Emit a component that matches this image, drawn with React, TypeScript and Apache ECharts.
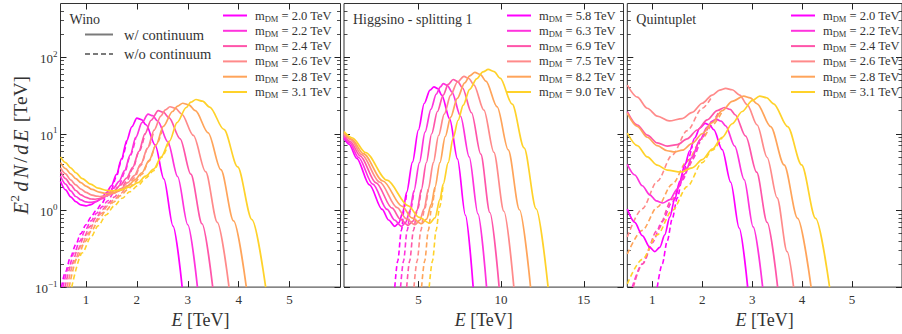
import React, { useEffect, useRef } from 'react';
import * as echarts from 'echarts';

// ---------------- data ----------------
const winoMasses = ['2.0', '2.2', '2.4', '2.6', '2.8', '3.1'];
const higgsinoMasses = ['5.8', '6.3', '6.9', '7.5', '8.2', '9.0'];
const quintupletMasses = ['2.0', '2.2', '2.4', '2.6', '2.8', '3.1'];

const panelTitles = ['Wino', 'Higgsino - splitting 1', 'Quintuplet'];
const xRanges = [[0.5, 6], [0.5, 17.4], [0.5, 6]];
const xTickValues = [[1, 2, 3, 4, 5], [5, 10, 15], [1, 2, 3, 4, 5]];
const yRange = [0.1, 500];
const yMajorTicks = [0.1, 1, 10, 100];
const yMinorTicks = [0.2, 0.3, 0.4, 0.5, 0.6, 0.7, 0.8, 0.9, 2, 3, 4, 5, 6, 7, 8, 9, 20, 30, 40, 50, 60, 70, 80, 90, 200, 300, 400];

// Wino, with continuum (E [TeV], E^2 dN/dE [TeV])
const winoSolid = [
  [[0.5,2.4],[0.6,1.85],[0.7,1.5],[0.8,1.3],[0.9,1.18],[1.0,1.15],[1.1,1.19],[1.2,1.3],[1.3,1.45],[1.4,1.7],[1.5,2.1],[1.6,2.95],[1.7,4.75],[1.8,8.1],[1.9,12.3],[2.0,16],[2.09,15.3],[2.18,13.1],[2.36,7.1],[2.53,2.58],[2.71,0.625],[2.89,0.1]],
  [[0.5,2.8],[0.6,2.2],[0.7,1.8],[0.8,1.52],[0.9,1.37],[1.0,1.29],[1.08,1.27],[1.2,1.31],[1.32,1.42],[1.43,1.62],[1.54,1.95],[1.65,2.4],[1.76,3.3],[1.87,5.3],[1.98,9.0],[2.1,14],[2.22,18],[2.31,17.2],[2.41,14.6],[2.61,7.8],[2.8,2.77],[3.0,0.65],[3.19,0.1]],
  [[0.5,3.2],[0.6,2.6],[0.7,2.15],[0.8,1.82],[0.9,1.6],[1.0,1.48],[1.1,1.41],[1.18,1.4],[1.3,1.44],[1.44,1.6],[1.56,1.82],[1.68,2.15],[1.8,2.65],[1.92,3.65],[2.04,5.9],[2.16,10],[2.28,15],[2.42,20],[2.52,19.1],[2.63,16.2],[2.85,8.6],[3.06,2.97],[3.28,0.67],[3.49,0.1]],
  [[0.5,3.6],[0.6,3.0],[0.7,2.5],[0.8,2.15],[0.9,1.9],[1.0,1.72],[1.1,1.6],[1.2,1.54],[1.28,1.52],[1.4,1.55],[1.56,1.68],[1.69,1.92],[1.82,2.3],[1.95,2.85],[2.08,4.05],[2.21,6.5],[2.34,11.2],[2.47,17],[2.56,20.5],[2.65,22.5],[2.76,21.4],[2.88,18.1],[3.11,9.5],[3.35,3.2],[3.58,0.7],[3.81,0.1]],
  [[0.5,4.2],[0.6,3.5],[0.7,3.0],[0.8,2.6],[0.9,2.3],[1.0,2.08],[1.12,1.88],[1.26,1.73],[1.4,1.66],[1.54,1.7],[1.68,1.82],[1.82,2.07],[1.96,2.5],[2.1,3.1],[2.24,4.5],[2.38,7.2],[2.52,12.5],[2.7,19.5],[2.8,23],[2.9,25],[3.02,23.8],[3.15,20],[3.4,10.3],[3.65,3.4],[3.9,0.73],[4.15,0.1]],
  [[0.5,5.0],[0.6,4.2],[0.7,3.6],[0.8,3.1],[0.93,2.6],[1.09,2.2],[1.24,1.95],[1.4,1.83],[1.52,1.8],[1.71,1.87],[1.86,2.02],[2.02,2.3],[2.17,2.8],[2.33,3.45],[2.48,5.0],[2.64,8.0],[2.79,14],[2.97,22],[3.06,25.8],[3.16,28],[3.29,26.6],[3.43,22.3],[3.71,11.4],[3.98,3.7],[4.26,0.76],[4.53,0.1]],
];
// Wino, without continuum
const winoDashed = [
  [[0.52,0.1],[0.6,0.16],[0.7,0.25],[0.8,0.36],[0.9,0.5],[1.0,0.65],[1.1,0.82],[1.2,1.0],[1.3,1.2],[1.4,1.5],[1.5,1.9],[1.6,2.8],[1.7,4.6],[1.8,8.1]],
  [[0.55,0.1],[0.66,0.18],[0.77,0.28],[0.88,0.4],[0.99,0.56],[1.1,0.73],[1.21,0.92],[1.32,1.12],[1.43,1.34],[1.54,1.68],[1.65,2.13],[1.76,3.1],[1.87,5.2],[1.98,9.0]],
  [[0.59,0.1],[0.72,0.2],[0.84,0.31],[0.96,0.45],[1.08,0.62],[1.2,0.81],[1.32,1.02],[1.44,1.25],[1.56,1.5],[1.68,1.88],[1.8,2.4],[1.92,3.5],[2.04,5.8],[2.16,10]],
  [[0.63,0.1],[0.78,0.22],[0.91,0.35],[1.04,0.5],[1.17,0.7],[1.3,0.91],[1.43,1.15],[1.56,1.4],[1.69,1.68],[1.82,2.1],[1.95,2.66],[2.08,3.9],[2.21,6.4],[2.34,11.2]],
  [[0.67,0.1],[0.84,0.25],[0.98,0.39],[1.12,0.56],[1.26,0.78],[1.4,1.01],[1.54,1.28],[1.68,1.56],[1.82,1.87],[1.96,2.34],[2.1,2.96],[2.24,4.4],[2.38,7.2],[2.52,12.5]],
  [[0.72,0.1],[0.93,0.28],[1.09,0.44],[1.24,0.63],[1.4,0.88],[1.55,1.14],[1.71,1.44],[1.86,1.75],[2.02,2.1],[2.17,2.63],[2.33,3.3],[2.48,4.9],[2.64,8.0]],
];

// Higgsino, with continuum
const higgsinoSolid = [
  [[0.5,8.8],[0.81,7.3],[1.27,4.78],[2.04,2.15],[2.81,1.03],[3.2,0.75],[3.58,0.62],[3.82,0.69],[4.05,0.94],[4.29,1.73],[4.64,4.26],[5.0,11.2],[5.35,24.8],[5.7,37],[5.94,41],[6.17,38.7],[6.41,32],[6.89,15.6],[7.36,4.7],[7.84,0.87],[8.31,0.1]],
  [[0.5,9.2],[0.85,7.6],[1.37,4.94],[2.24,2.2],[3.11,1.03],[3.55,0.75],[3.98,0.62],[4.23,0.7],[4.48,0.98],[4.73,1.8],[5.06,4.2],[5.4,10.5],[5.76,21],[6.08,33],[6.33,41],[6.5,45],[6.75,42.6],[7.02,35.2],[7.55,16.9],[8.07,4.99],[8.6,0.9],[9.12,0.1]],
  [[0.5,9.6],[0.89,7.9],[1.47,5.15],[2.44,2.29],[3.41,1.07],[3.9,0.77],[4.38,0.64],[4.65,0.72],[4.92,1.0],[5.17,1.85],[5.48,4.2],[5.8,10],[6.15,19.5],[6.5,32],[6.8,44],[7.1,51],[7.38,47.9],[7.66,39.8],[8.21,18.8],[8.77,5.41],[9.32,0.94],[9.88,0.1]],
  [[0.5,10.0],[0.93,8.3],[1.57,5.33],[2.65,2.35],[3.72,1.09],[4.26,0.78],[4.79,0.65],[5.07,0.74],[5.35,1.05],[5.6,1.9],[5.9,4.2],[6.22,9.5],[6.56,18],[6.95,32],[7.35,47],[7.75,56],[8.05,52.6],[8.35,43.5],[8.96,20.3],[9.56,5.74],[10.17,0.975],[10.77,0.1]],
  [[0.5,10.3],[0.97,8.5],[1.67,5.5],[2.85,2.42],[4.02,1.13],[4.6,0.8],[5.19,0.67],[5.49,0.77],[5.78,1.2],[6.0,2.0],[6.3,4.2],[6.62,9.2],[6.95,16.5],[7.35,29],[7.8,46],[8.1,57],[8.41,63],[8.75,59.1],[9.08,48.6],[9.76,22.4],[10.43,6.18],[11.11,1.02],[11.78,0.1]],
  [[0.5,10.7],[1.02,8.8],[1.8,5.7],[3.1,2.48],[4.39,1.15],[5.04,0.81],[5.69,0.68],[6.0,0.8],[6.3,1.4],[6.5,2.2],[6.8,4.2],[7.1,8.8],[7.4,15],[7.71,23.7],[8.1,38],[8.52,52],[8.9,64],[9.22,69],[9.58,64.8],[9.94,53.1],[10.67,24.3],[11.39,6.56],[12.12,1.05],[12.84,0.1]],
];
// Higgsino, without continuum
const higgsinoDashed = [
  [[3.57,0.1],[3.75,0.22],[3.97,0.55],[4.15,1.1],[4.29,1.73]],
  [[3.92,0.1],[4.1,0.22],[4.32,0.55],[4.52,1.0],[4.73,1.8]],
  [[4.29,0.1],[4.47,0.22],[4.7,0.55],[4.92,0.98],[5.17,1.85]],
  [[4.73,0.1],[4.92,0.22],[5.15,0.55],[5.35,1.0],[5.6,1.9]],
  [[5.19,0.1],[5.38,0.22],[5.6,0.55],[5.8,1.1],[6.0,2.0]],
  [[5.65,0.1],[5.85,0.22],[6.07,0.55],[6.28,1.1],[6.5,2.2]],
];

// Quintuplet, with continuum
const quintupletSolid = [
  [[0.5,1.04],[0.65,0.7],[0.8,0.47],[0.95,0.33],[1.05,0.29],[1.15,0.33],[1.25,0.48],[1.35,0.82],[1.45,1.4],[1.55,2.4],[1.65,3.9],[1.75,6.0],[1.85,8.8],[1.95,11.8],[2.06,13.7],[2.15,13.0],[2.23,11.3],[2.4,6.2],[2.57,2.33],[2.74,0.59],[2.91,0.1]],
  [[0.5,4.0],[0.65,2.9],[0.8,2.1],[0.95,1.6],[1.08,1.33],[1.21,1.25],[1.35,1.38],[1.5,1.9],[1.65,3.0],[1.8,5.0],[1.95,8.2],[2.1,12.2],[2.2,14.5],[2.28,15.5],[2.38,14.6],[2.47,12.7],[2.65,6.9],[2.84,2.52],[3.02,0.61],[3.21,0.1]],
  [[0.5,19.5],[0.7,13],[0.9,9.6],[1.1,7.6],[1.3,6.9],[1.5,7.2],[1.7,8.6],[1.9,11.2],[2.1,15.2],[2.3,20],[2.45,22],[2.56,20.8],[2.66,17.7],[2.87,9.3],[3.09,3.15],[3.3,0.7],[3.51,0.1]],
  [[0.5,43],[0.7,30],[0.9,21.5],[1.1,17],[1.34,14.7],[1.6,15.8],[1.8,19],[2.0,25],[2.2,32],[2.35,37],[2.47,39],[2.6,37.5],[2.75,32],[2.9,24],[3.1,13],[3.3,4.9],[3.5,1.46],[3.7,0.29],[3.83,0.1]],
  [[0.5,18.5],[0.7,12.5],[0.9,9.0],[1.1,7.0],[1.3,6.0],[1.45,5.8],[1.6,6.1],[1.8,7.5],[2.0,10],[2.2,14],[2.4,20],[2.6,26.5],[2.83,31],[2.96,29.4],[3.1,24.6],[3.37,12.4],[3.64,3.93],[3.91,0.79],[4.18,0.1]],
  [[0.5,10.2],[0.7,7.0],[0.9,5.0],[1.1,3.9],[1.3,3.35],[1.57,3.17],[1.8,3.6],[2.0,4.6],[2.2,6.3],[2.4,9],[2.6,13.5],[2.8,19.5],[3.0,27],[3.15,31],[3.29,29.5],[3.43,24.6],[3.71,12.4],[3.99,3.93],[4.27,0.79],[4.55,0.1]],
];
// Quintuplet, without continuum
const quintupletDashed = [
  [[1.1,0.1],[1.2,0.2],[1.3,0.4],[1.4,0.78],[1.5,1.45],[1.6,2.6],[1.7,4.4],[1.8,6.9]],
  [[0.6,0.1],[0.8,0.2],[1.0,0.38],[1.2,0.72],[1.4,1.3],[1.6,2.5],[1.8,4.6],[1.95,7.8]],
  [[0.62,0.1],[0.8,0.2],[1.1,0.55],[1.4,1.4],[1.7,3.6],[2.0,9],[2.2,14.5],[2.35,20.5]],
  [[0.5,0.45],[0.8,1.05],[1.1,2.4],[1.4,5.3],[1.7,11],[2.0,21.5],[2.2,31]],
  [[0.5,0.27],[0.8,0.55],[1.1,1.1],[1.4,2.2],[1.7,4.4],[2.0,8.6],[2.2,13],[2.4,19.5]],
  [[0.5,0.11],[0.8,0.23],[1.1,0.48],[1.4,1.0],[1.7,2.05],[2.0,4.2],[2.2,6.1],[2.4,8.9]],
];

// ---------------- styling ----------------
const colors = ['#ff00ff', '#ff33dd', '#ff55aa', '#ff8a8a', '#ffa45a', '#ffd22a'];
const FONT = 'Liberation Serif';
const TXT = '#333';
const grids = [
  { left: 60.5, top: 3.5, width: 280, height: 287 },
  { left: 344, top: 3.5, width: 279.5, height: 287 },
  { left: 627.3, top: 3.5, width: 281, height: 287 },
];
const legendLeft = [222, 506, 790];
const prefixes = ['W', 'H', 'Q'];
const massSets = [winoMasses, higgsinoMasses, quintupletMasses];
const solidSets = [winoSolid, higgsinoSolid, quintupletSolid];
const dashedSets = [winoDashed, higgsinoDashed, quintupletDashed];

function supLabel(v: number) {
  const e = Math.round(Math.log10(v));
  const s = e < 0 ? '\u2212' + (-e) : String(e);
  return `{b|10}{s|${s}}`;
}

function buildOption() {
  const xAxis: any[] = [];
  const yAxis: any[] = [];
  const series: any[] = [];
  const legend: any[] = [];
  const title: any[] = [];

  grids.forEach((g, gi) => {
    const [xmin, xmax] = xRanges[gi];
    xAxis.push({
      type: 'value', gridIndex: gi, position: 'bottom', min: xmin, max: xmax,
      axisLine: { show: false }, splitLine: { show: false },
      axisTick: { show: true, inside: true, length: 6, customValues: xTickValues[gi], lineStyle: { color: '#222', width: 1 } },
      axisLabel: { show: true, customValues: xTickValues[gi], margin: 6, fontFamily: FONT, fontSize: 13, color: TXT },
      name: '{i|E} [TeV]', nameLocation: 'middle', nameGap: 20,
      nameTextStyle: { fontFamily: FONT, fontSize: 18, color: TXT, rich: { i: { fontStyle: 'italic', fontFamily: FONT, fontSize: 18, color: TXT } } },
    });
    xAxis.push({
      type: 'value', gridIndex: gi, position: 'top', min: xmin, max: xmax,
      axisLine: { show: false }, splitLine: { show: false }, axisLabel: { show: false },
      axisTick: { show: true, inside: true, length: 6, customValues: xTickValues[gi], lineStyle: { color: '#222', width: 1 } },
    });
    const baseY = { type: 'log', logBase: 10, gridIndex: gi, min: yRange[0], max: yRange[1], axisLine: { show: false }, splitLine: { show: false } };
    yAxis.push({
      ...baseY, position: 'left',
      axisTick: { show: true, inside: true, length: 6, customValues: yMajorTicks, lineStyle: { color: '#222', width: 1 } },
      axisLabel: gi === 0 ? {
        show: true, customValues: yMajorTicks, margin: 3, formatter: (v: number) => supLabel(v),
        rich: {
          b: { fontFamily: FONT, fontSize: 13, color: TXT, verticalAlign: 'bottom' },
          s: { fontFamily: FONT, fontSize: 9, color: TXT, verticalAlign: 'bottom', padding: [0, 0, 7, 0] },
        },
      } : { show: false },
      name: gi === 0 ? '{e|E}{s|2}{i|d}{i|N}{u|/}{i|d}{i|E}{u| [TeV]}' : '', nameLocation: 'middle', nameGap: 30,
      nameTextStyle: {
        fontFamily: FONT, fontSize: 19, color: TXT,
        rich: {
          e: { fontStyle: 'italic', fontFamily: FONT, fontSize: 20, color: TXT, verticalAlign: 'bottom', padding: [0, 0, 0, 1.5] },
          i: { fontStyle: 'italic', fontFamily: FONT, fontSize: 20, color: TXT, verticalAlign: 'bottom', padding: [0, 1.5, 0, 1.5] },
          u: { fontFamily: FONT, fontSize: 19.5, color: TXT, verticalAlign: 'bottom', padding: [0, 1, 0, 1] },
          s: { fontFamily: FONT, fontSize: 13, color: TXT, verticalAlign: 'bottom', padding: [0, 2, 10, 0.5] },
        },
      },
    });
    yAxis.push({
      ...baseY, position: 'left', axisLabel: { show: false },
      axisTick: { show: true, inside: true, length: 3.5, customValues: yMinorTicks, lineStyle: { color: '#222', width: 0.8 } },
    });
    yAxis.push({
      ...baseY, position: 'right', axisLabel: { show: false },
      axisTick: { show: true, inside: true, length: 6, customValues: yMajorTicks, lineStyle: { color: '#222', width: 1 } },
    });
    yAxis.push({
      ...baseY, position: 'right', axisLabel: { show: false },
      axisTick: { show: true, inside: true, length: 3.5, customValues: yMinorTicks, lineStyle: { color: '#222', width: 0.8 } },
    });

    const masses = massSets[gi];
    masses.forEach((m, i) => {
      series.push({
        type: 'line', name: `${prefixes[gi]}${m} lo`, xAxisIndex: 2 * gi, yAxisIndex: 4 * gi,
        data: dashedSets[gi][i], symbol: 'none', showSymbol: false, smooth: 0.3, smoothMonotone: 'x', silent: true,
        lineStyle: { color: colors[i], width: 1.6, type: [5, 3] }, itemStyle: { color: colors[i] }, z: 2,
      });
    });
    masses.forEach((m, i) => {
      series.push({
        type: 'line', name: `${prefixes[gi]}${m}`, xAxisIndex: 2 * gi, yAxisIndex: 4 * gi,
        data: solidSets[gi][i], symbol: 'none', showSymbol: false, smooth: 0.3, smoothMonotone: 'x', silent: true,
        lineStyle: { color: colors[i], width: 1.7, type: 'solid' }, itemStyle: { color: colors[i] }, z: 3,
      });
    });

    legend.push({
      data: masses.map((m) => `${prefixes[gi]}${m}`), left: legendLeft[gi], top: 9, orient: 'vertical',
      itemWidth: 24, itemHeight: 10, itemGap: 1.3, selectedMode: false, padding: 0,
      itemStyle: { opacity: 0 },
      formatter: (name: string) => `{a|m}{s|DM}{a| = ${name.slice(1)} TeV}`,
      textStyle: {
        padding: [0, 0, 0, 3],
        rich: {
          a: { fontFamily: FONT, fontSize: 12.5, color: TXT, verticalAlign: 'top', lineHeight: 13 },
          s: { fontFamily: FONT, fontSize: 8.5, color: TXT, verticalAlign: 'top', lineHeight: 9, padding: [5, 0, 0, 0] },
        },
      },
    });
    title.push({
      text: panelTitles[gi], left: g.left + 9, top: 12, padding: 0,
      textStyle: { fontFamily: FONT, fontSize: 14, fontWeight: 'normal', color: TXT },
    });
  });

  series.push({
    type: 'line', name: 'w/ continuum', xAxisIndex: 0, yAxisIndex: 0, data: [], symbol: 'none',
    lineStyle: { color: '#7a7a7a', width: 1.7, type: 'solid' }, itemStyle: { color: '#7a7a7a' },
  });
  series.push({
    type: 'line', name: 'w/o continuum', xAxisIndex: 0, yAxisIndex: 0, data: [], symbol: 'none',
    lineStyle: { color: '#7a7a7a', width: 1.7, type: [5, 3] }, itemStyle: { color: '#7a7a7a' },
  });
  legend.push({
    data: ['w/ continuum', 'w/o continuum'], left: 84, top: 27, orient: 'vertical',
    itemWidth: 28, itemHeight: 10, itemGap: 4.5, selectedMode: false, padding: 0,
    itemStyle: { opacity: 0 },
    textStyle: { fontFamily: FONT, fontSize: 14.5, color: TXT, padding: [0, 0, 0, 6] },
  });

  return {
    animation: false,
    backgroundColor: '#ffffff',
    grid: grids.map((g) => ({ ...g, show: true, borderColor: '#333', borderWidth: 1, backgroundColor: 'transparent', containLabel: false })),
    xAxis, yAxis, series, legend, title,
  };
}

export default function App() {
  const ref = useRef<HTMLDivElement>(null);
  useEffect(() => {
    if (!ref.current) return;
    const chart = echarts.init(ref.current, null, { renderer: 'svg' });
    chart.setOption(buildOption() as any);
    return () => chart.dispose();
  }, []);
  return <div ref={ref} style={{ position: 'absolute', left: 0, top: 0, width: 902, height: 334, background: '#fff' }} />;
}
